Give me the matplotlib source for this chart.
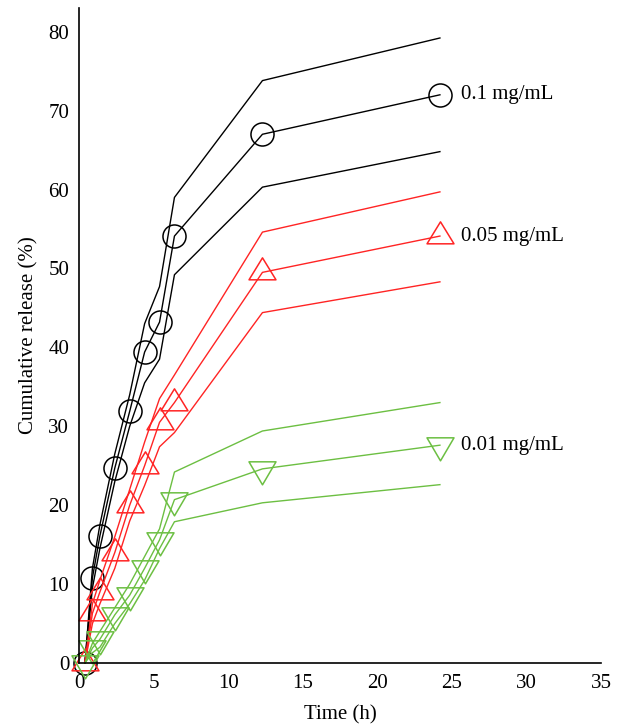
import matplotlib
matplotlib.use("Agg")
import matplotlib.pyplot as plt
from matplotlib.path import Path
import numpy as np

plt.rcParams['font.family'] = ['Liberation Serif', 'DejaVu Serif']

# Time points (h)
time_h = [0.4, 0.9, 1.4, 2.4, 3.4, 4.4, 5.4, 6.4, 12.3, 24.2]

# 0.1 mg/mL
c01_mean = [0, 10.8, 16.1, 24.7, 31.9, 39.4, 43.2, 54.1, 67.0, 72.0]
c01_upper = [0, 12.0, 17.5, 26.5, 34.0, 43.0, 47.7, 59.0, 73.8, 79.2]
c01_lower = [0, 9.5, 14.5, 23.0, 30.0, 35.5, 38.5, 49.2, 60.3, 64.8]

# 0.05 mg/mL
c005_mean = [0, 6.3, 9.0, 14.0, 20.0, 25.0, 30.5, 33.0, 49.5, 54.1]
c005_upper = [0, 7.5, 10.5, 16.0, 22.0, 28.0, 33.5, 36.5, 54.6, 59.7]
c005_lower = [0, 5.0, 7.5, 12.0, 18.0, 22.5, 27.4, 29.2, 44.4, 48.3]

# 0.01 mg/mL
c001_mean = [0, 1.9, 3.0, 6.1, 8.6, 12.0, 15.6, 20.7, 24.6, 27.6]
c001_upper = [0, 2.5, 4.0, 7.0, 10.0, 13.5, 17.0, 24.2, 29.4, 33.0]
c001_lower = [0, 1.3, 2.0, 5.0, 7.5, 10.5, 14.5, 17.9, 20.3, 22.6]

labels = ['0.1 mg/mL', '0.05 mg/mL', '0.01 mg/mL']
colors = ['#000000', '#ff2424', '#6cbf42']

x_ticks = [0, 5, 10, 15, 20, 25, 30, 35]
y_ticks = [0, 10, 20, 30, 40, 50, 60, 70, 80]

# centroid-centred triangles
up_tri = Path([(0, 14.67), (-13.5, -7.33), (13.5, -7.33), (0, 14.67)],
              [Path.MOVETO, Path.LINETO, Path.LINETO, Path.CLOSEPOLY])
down_tri = Path([(0, -15.33), (-13.5, 7.67), (13.5, 7.67), (0, -15.33)],
                [Path.MOVETO, Path.LINETO, Path.LINETO, Path.CLOSEPOLY])
markers = ['o', up_tri, down_tri]
msizes = [16.6, 21.1, 22.1]

fig = plt.figure(figsize=(6.21, 7.25), dpi=100)
ax = fig.add_axes([79/621, 62/725, 522/621, 655/725])

series = [(c01_mean, c01_upper, c01_lower),
          (c005_mean, c005_upper, c005_lower),
          (c001_mean, c001_upper, c001_lower)]

for (m, u, l), col, mk, ms, lab in zip(series, colors, markers, msizes, labels):
    ax.plot(time_h, u, color=col, lw=1.0, clip_on=False)
    ax.plot(time_h, l, color=col, lw=1.0, clip_on=False)
    ax.plot(time_h, m, color=col, lw=1.0, marker=mk, markersize=ms,
            markerfacecolor='none', markeredgecolor=col, markeredgewidth=1.1,
            clip_on=False)
    ax.annotate(lab, xy=(time_h[-1], m[-1]), xytext=(15.5, 0),
                textcoords='offset points', va='center', ha='left',
                fontsize=15, color='black')

ax.set_xlim(0, 35)
ax.set_ylim(0, 83)
ax.set_xticks(x_ticks)
ax.set_yticks(y_ticks)
ax.tick_params(length=0, labelsize=15)
ax.tick_params(axis='x', pad=8)
ax.tick_params(axis='y', pad=7)
for s in ['top', 'right']:
    ax.spines[s].set_visible(False)
for s in ['left', 'bottom']:
    ax.spines[s].set_linewidth(1.2)
ax.set_xlabel('Time (h)', fontsize=15, labelpad=9)
ax.set_ylabel('Cumulative release (%)', fontsize=15, labelpad=7)

fig.savefig('out.png', dpi=100)
